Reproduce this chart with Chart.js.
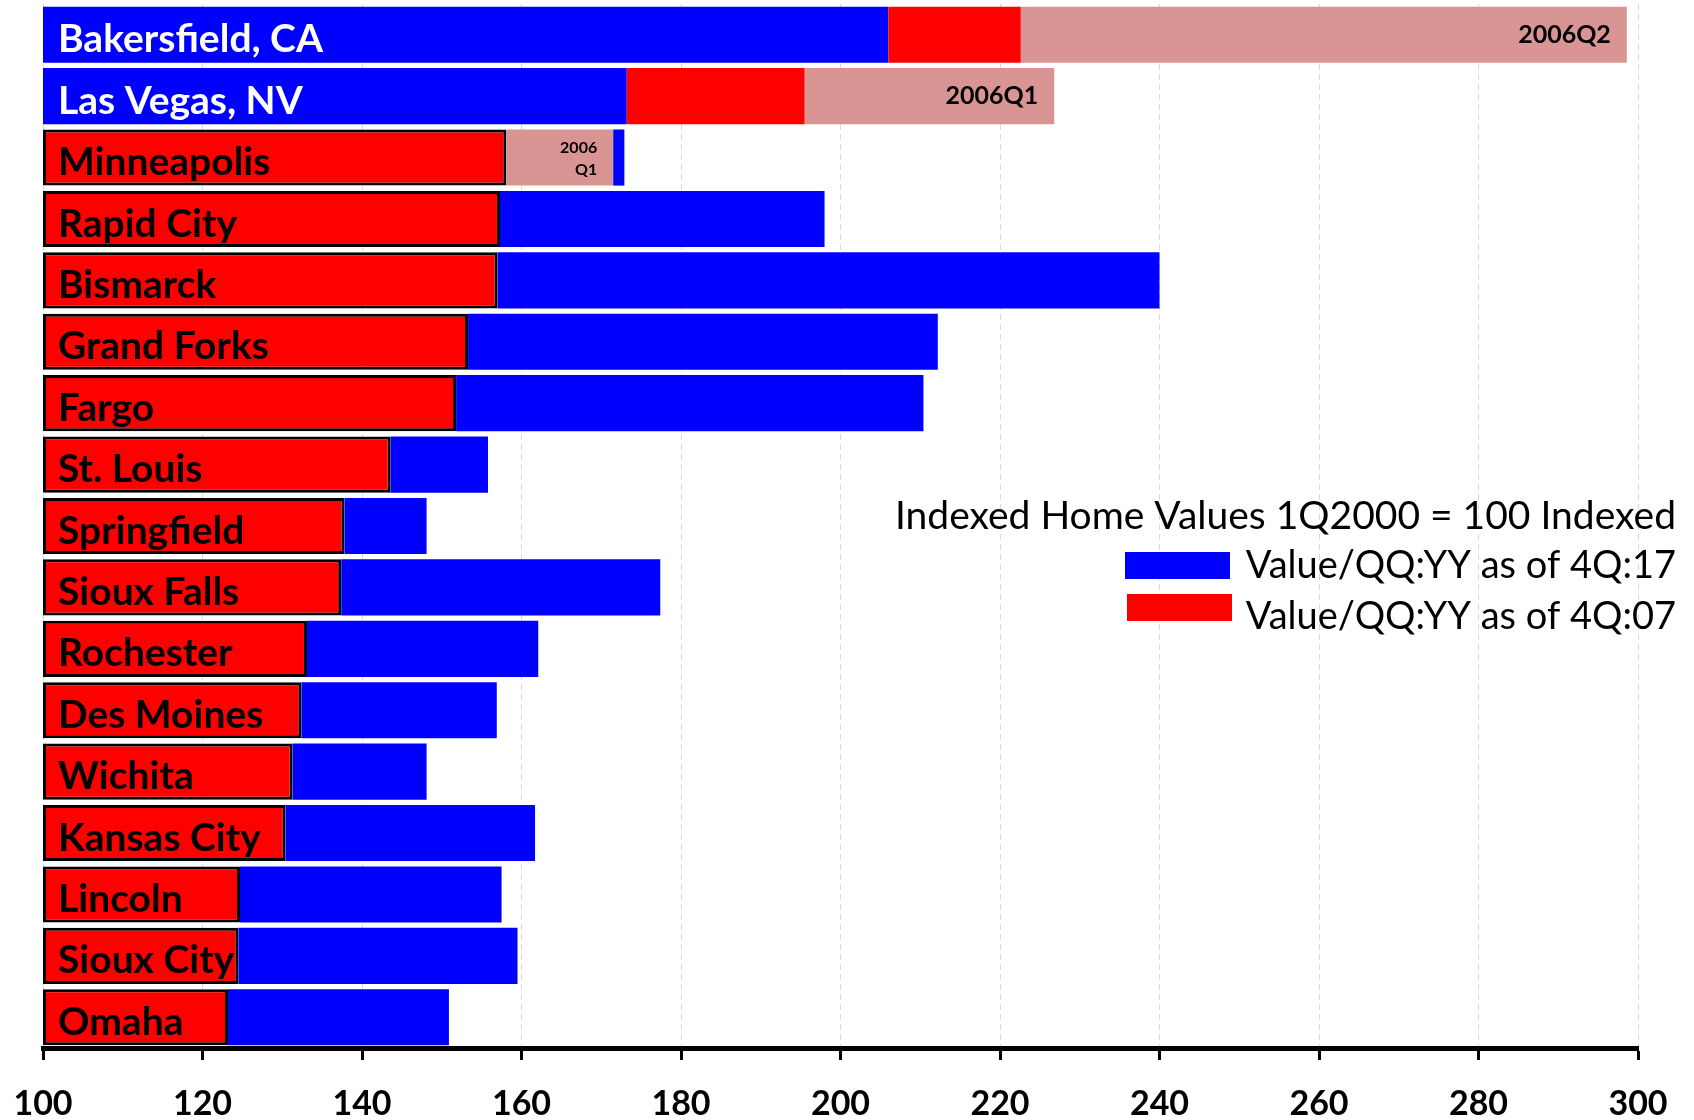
<!DOCTYPE html>
<html>
<head>
<meta charset="utf-8">
<script src="https://cdn.jsdelivr.net/npm/chart.js@4/dist/chart.umd.min.js"></script>
<style>
  html, body { margin: 0; padding: 0; background: #fff; }
  #wrap { position: relative; width: 1694px; height: 1120px; }
</style>
</head>
<body>
<div id="wrap"><canvas id="chart"></canvas></div>
<script>
// values, index 1Q2000 = 100
const cities = [
  'Bakersfield, CA', 'Las Vegas, NV', 'Minneapolis', 'Rapid City', 'Bismarck',
  'Grand Forks', 'Fargo', 'St. Louis', 'Springfield', 'Sioux Falls',
  'Rochester', 'Des Moines', 'Wichita', 'Kansas City', 'Lincoln',
  'Sioux City', 'Omaha'
];
const value4Q17 = [206.0, 173.2, 172.9, 198.0, 240.0, 212.2, 210.4, 155.8, 148.1, 177.4,
  162.1, 156.9, 148.1, 161.7, 157.5, 159.5, 150.9];
const value4Q07 = [222.6, 195.5, 158.1, 157.3, 157.0, 153.3, 151.8, 143.6, 137.8, 137.4,
  133.1, 132.4, 131.3, 130.4, 124.7, 124.5, 123.2];
const peakValue = [298.6, 226.8, 171.5, null, null, null, null, null, null, null,
  null, null, null, null, null, null, null];
const peakLabel = ['2006Q2', '2006Q1', '2006\nQ1', '', '', '', '', '', '', '',
  '', '', '', '', '', '', ''];
const xTicks = [100, 120, 140, 160, 180, 200, 220, 240, 260, 280, 300];
const legendTitle = 'Indexed Home Values 1Q2000 = 100 Indexed';
const legendNames = ['Value/QQ:YY as of 4Q:17', 'Value/QQ:YY as of 4Q:07'];

const BLUE = '#0000ff';
const RED = '#ff0000';
const PINK = '#d99594';
const BASE = xTicks[0];

// each series gets the piece between the next smaller value and its own value
const segBlue = [], segRed = [], segPeak = [];
cities.forEach((c, i) => {
  const vals = [
    { k: 'blue', v: value4Q17[i] },
    { k: 'red', v: value4Q07[i] },
    { k: 'peak', v: peakValue[i] },
  ].filter(d => d.v != null).sort((a, b) => a.v - b.v);
  const seg = { blue: null, red: null, peak: null };
  let start = BASE;
  vals.forEach(d => { seg[d.k] = [start, d.v]; start = d.v; });
  segBlue.push(seg.blue);
  segRed.push(seg.red);
  segPeak.push(seg.peak);
});

const labelPlugin = {
  id: 'labels',
  afterDatasetsDraw(chart) {
    const { ctx } = chart;
    const xs = chart.scales.x, ys = chart.scales.y;
    ctx.save();
    ctx.textBaseline = 'middle';
    cities.forEach((c, i) => {
      const y = ys.getPixelForValue(i);
      ctx.font = 'bold 39px Lato';
      ctx.textAlign = 'left';
      ctx.fillStyle = value4Q17[i] < value4Q07[i] ? '#fff' : '#000';
      ctx.fillText(c, xs.getPixelForValue(BASE) + 15, y + 5);
      if (peakValue[i] != null) {
        const lines = peakLabel[i].split('\n');
        const xr = xs.getPixelForValue(peakValue[i]) - 16;
        ctx.fillStyle = '#000';
        ctx.textAlign = 'right';
        if (lines.length === 1) {
          ctx.font = 'bold 25px Lato';
          ctx.fillText(lines[0], xr, y);
        } else {
          ctx.font = 'bold 16px Lato';
          ctx.fillText(lines[0], xr, y - 10);
          ctx.fillText(lines[1], xr, y + 12);
        }
      }
    });
    ctx.restore();
  },
  afterDraw(chart) {
    const { ctx } = chart;
    const right = 1676;
    ctx.save();
    ctx.fillStyle = '#000';
    ctx.textAlign = 'right';
    ctx.textBaseline = 'middle';
    ctx.font = '39px Lato';
    ctx.fillText(legendTitle, right, 516);
    ctx.fillStyle = BLUE;
    ctx.fillRect(1125, 552, 105, 27);
    ctx.fillStyle = RED;
    ctx.fillRect(1127, 594, 105, 27);
    ctx.fillStyle = '#000';
    ctx.font = '38px Lato';
    ctx.fillText(legendNames[0], right, 566);
    ctx.fillText(legendNames[1], right, 617);
    ctx.restore();
  }
};

new Chart(document.getElementById('chart'), {
  type: 'bar',
  data: {
    labels: cities,
    datasets: [
      {
        label: legendNames[1],
        data: segRed,
        backgroundColor: RED,
        borderColor: value4Q07.map((v, i) => (v > value4Q17[i] ? RED : '#000')),
        borderWidth: value4Q07.map((v, i) => (v > value4Q17[i] ? 0 : 3)),
        borderSkipped: false,
        grouped: false,
      },
      {
        label: legendNames[0],
        data: segBlue,
        backgroundColor: BLUE,
        borderWidth: 0,
        grouped: false,
      },
      {
        label: 'Peak',
        data: segPeak,
        backgroundColor: PINK,
        borderWidth: 0,
        grouped: false,
      },
    ],
  },
  options: {
    indexAxis: 'y',
    responsive: true,
    maintainAspectRatio: false,
    animation: false,
    categoryPercentage: 0.914,
    barPercentage: 1,
    layout: { padding: { left: 43, right: 56, top: 4, bottom: 0 } },
    plugins: {
      legend: { display: false },
      tooltip: { enabled: false },
    },
    scales: {
      x: {
        min: BASE,
        max: xTicks[xTicks.length - 1],
        afterBuildTicks: (axis) => { axis.ticks = xTicks.map(v => ({ value: v })); },
        afterFit: (axis) => {
          axis.height = 72;
          axis.paddingLeft = 0;
          axis.paddingRight = 0;
        },
        ticks: {
          color: '#000',
          font: { family: 'Lato', size: 34, weight: 'bold' },
          padding: 24,
          maxRotation: 0,
        },
        grid: {
          color: '#d9d9d9',
          lineWidth: 1,
          tickColor: '#000',
          tickWidth: 3,
          tickLength: 12,
        },
        border: { display: true, color: '#000', width: 5, dash: [6, 4] },
      },
      y: {
        display: false,
        offset: true,
      },
    },
  },
  plugins: [labelPlugin],
});
</script>
</body>
</html>
